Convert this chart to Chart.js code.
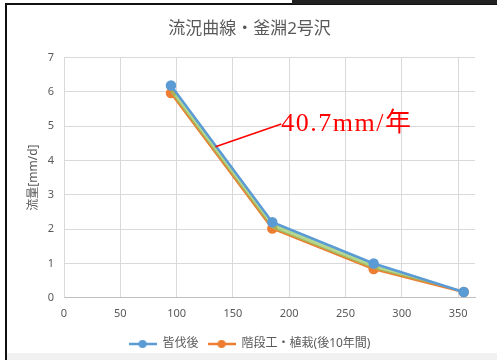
<!DOCTYPE html>
<html>
<head>
<meta charset="utf-8">
<script src="https://cdn.jsdelivr.net/npm/chart.js@4.4.1/dist/chart.umd.min.js"></script>
<style>
  html, body { margin: 0; padding: 0; background: #fff; }
  #wrap { position: relative; width: 497px; height: 360px; overflow: hidden; }
  #frameLeft { position: absolute; left: 5px; top: 3px; width: 2px; height: 357px; background: #111; }
  #frameTop { position: absolute; left: 5px; top: 3px; width: 492px; height: 2px; background: #111; }
  #frameTopRight { position: absolute; left: 292px; top: 0px; width: 205px; height: 4px; background: #222; }
  #frameBottom { position: absolute; left: 7px; top: 353px; width: 490px; height: 7px; background: #f1f1f1; }
  canvas { position: absolute; left: 0; top: 0; }
</style>
</head>
<body>
<div id="wrap">
  <canvas id="c" width="497" height="360"></canvas>
  <div id="frameBottom"></div>
  <div id="frameLeft"></div>
  <div id="frameTop"></div>
  <div id="frameTopRight"></div>
</div>
<script>
// Flow-duration curve: exceedance days vs. discharge
const days = [95, 185, 275, 355];
const flowAfterCut = [6.18, 2.2, 1.0, 0.17];      // 皆伐後
const flowTerraced = [5.96, 2.02, 0.84, 0.17];    // 階段工・植栽(後10年間)
const seriesNames = ['皆伐後', '階段工・植栽(後10年間)'];
const xTicks = [0, 50, 100, 150, 200, 250, 300, 350];
const yTicks = [0, 1, 2, 3, 4, 5, 6, 7];

// Callout: point on the curve and where the note text starts (data units)
const noteText = '40.7mm/年';
const noteAnchor = { x: 134.5, y: 4.40 };
const noteLabelAt = { x: 193, y: 5.06 };

const BLUE = '#5B9BD5';
const ORANGE = '#ED7D31';
const GREEN = 'rgba(146, 200, 100, 0.7)';
const TEXT = '#595959';
const GRID = '#D9D9D9';

function legendSwatch(color) {
  const cv = document.createElement('canvas');
  cv.width = 28; cv.height = 10;
  const g = cv.getContext('2d');
  g.strokeStyle = color; g.lineWidth = 2.5;
  g.beginPath(); g.moveTo(0, 5); g.lineTo(28, 5); g.stroke();
  g.fillStyle = color;
  g.beginPath(); g.arc(14, 5, 4, 0, Math.PI * 2); g.fill();
  return cv;
}
const swatches = [legendSwatch(BLUE), legendSwatch(ORANGE)];

const calloutPlugin = {
  id: 'callout',
  afterDatasetsDraw(chart) {
    const { ctx, scales: { x, y } } = chart;
    const ax = x.getPixelForValue(noteAnchor.x), ay = y.getPixelForValue(noteAnchor.y);
    const lx = x.getPixelForValue(noteLabelAt.x), ly = y.getPixelForValue(noteLabelAt.y);
    ctx.save();
    ctx.strokeStyle = '#FF0000';
    ctx.lineWidth = 1.5;
    ctx.beginPath(); ctx.moveTo(ax, ay); ctx.lineTo(lx, ly); ctx.stroke();
    ctx.fillStyle = '#FF0000';
    ctx.font = '26px "Liberation Serif", "DejaVu Serif", "Noto Sans CJK JP", serif';
    ctx.letterSpacing = '1.5px';
    ctx.textAlign = 'left';
    ctx.textBaseline = 'middle';
    ctx.fillText(noteText, lx, ly);
    ctx.restore();
  }
};

const font = '"Noto Sans", "Noto Sans CJK JP", sans-serif';

new Chart(document.getElementById('c'), {
  type: 'line',
  data: {
    labels: days,
    datasets: [
      {
        label: seriesNames[0],
        data: days.map((d, i) => ({ x: d, y: flowAfterCut[i] })),
        borderColor: BLUE,
        backgroundColor: GREEN,
        pointBackgroundColor: BLUE,
        pointBorderColor: BLUE,
        borderWidth: 2.5,
        pointRadius: 4,
        fill: '+1',
        tension: 0
      },
      {
        label: seriesNames[1],
        data: days.map((d, i) => ({ x: d, y: flowTerraced[i] })),
        borderColor: ORANGE,
        backgroundColor: ORANGE,
        pointBackgroundColor: ORANGE,
        pointBorderColor: ORANGE,
        borderWidth: 2.5,
        pointRadius: 4,
        fill: false,
        tension: 0
      }
    ]
  },
  options: {
    responsive: false,
    animation: false,
    devicePixelRatio: 1,
    layout: { padding: { left: 24, right: 22, top: 8, bottom: 0 } },
    plugins: {
      title: {
        display: true,
        text: '流況曲線・釜淵2号沢',
        color: TEXT,
        font: { family: font, size: 17, weight: 'normal' },
        padding: { top: 11, bottom: 18 }
      },
      legend: {
        position: 'bottom',
        labels: {
          color: TEXT,
          font: { family: font, size: 12 },
          usePointStyle: true,
          pointStyleWidth: 28,
          boxHeight: 10,
          padding: 9,
          generateLabels(chart) {
            return chart.data.datasets.map((ds, i) => ({
              text: ds.label,
              fillStyle: ds.borderColor,
              strokeStyle: ds.borderColor,
              lineWidth: 0,
              pointStyle: swatches[i],
              hidden: false,
              datasetIndex: i,
              fontColor: TEXT
            }));
          }
        }
      },
      tooltip: { enabled: false }
    },
    scales: {
      x: {
        type: 'linear',
        min: 0,
        max: 365,
        afterBuildTicks(scale) { scale.ticks = xTicks.map(v => ({ value: v })); },
        ticks: { color: TEXT, font: { family: font, size: 11 }, padding: 9, maxRotation: 0 },
        grid: { color: GRID, lineWidth: 1, drawTicks: false },
        border: { color: '#BFBFBF' }
      },
      y: {
        min: 0,
        max: 7,
        afterBuildTicks(scale) { scale.ticks = yTicks.map(v => ({ value: v })); },
        afterFit(scale) { scale.width = 40; },
        ticks: { color: TEXT, font: { family: font, size: 11 }, padding: 10 },
        grid: { color: GRID, lineWidth: 1, drawTicks: false },
        border: { color: GRID },
        title: {
          display: true,
          text: '流量[mm/d]',
          color: TEXT,
          font: { family: font, size: 12 },
          padding: { top: 2, bottom: 0 }
        }
      }
    }
  },
  plugins: [calloutPlugin]
});
</script>
</body>
</html>
